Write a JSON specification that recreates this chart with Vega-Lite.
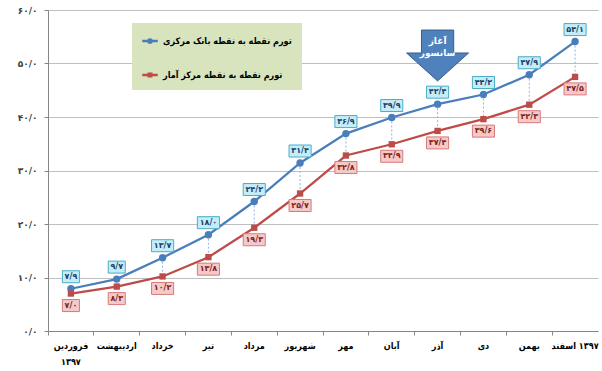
{
  "$schema": "https://vega.github.io/schema/vega-lite/v6.json",
  "width": 550,
  "height": 321,
  "autosize": {"type": "none"},
  "padding": {"left": 48, "top": 10, "right": 4, "bottom": 40},
  "config": {"view": {"stroke": null}, "font": "DejaVu Sans"},
  "data": {"values": [
    {"m": "فروردین", "s": "تورم نقطه به نقطه بانک مرکزی", "v": 7.9, "t": "۷/۹"},
    {"m": "اردیبهشت", "s": "تورم نقطه به نقطه بانک مرکزی", "v": 9.7, "t": "۹/۷"},
    {"m": "خرداد", "s": "تورم نقطه به نقطه بانک مرکزی", "v": 13.7, "t": "۱۳/۷"},
    {"m": "تیر", "s": "تورم نقطه به نقطه بانک مرکزی", "v": 18.0, "t": "۱۸/۰"},
    {"m": "مرداد", "s": "تورم نقطه به نقطه بانک مرکزی", "v": 24.2, "t": "۲۴/۲"},
    {"m": "شهریور", "s": "تورم نقطه به نقطه بانک مرکزی", "v": 31.4, "t": "۳۱/۴"},
    {"m": "مهر", "s": "تورم نقطه به نقطه بانک مرکزی", "v": 36.9, "t": "۳۶/۹"},
    {"m": "آبان", "s": "تورم نقطه به نقطه بانک مرکزی", "v": 39.9, "t": "۳۹/۹"},
    {"m": "آذر", "s": "تورم نقطه به نقطه بانک مرکزی", "v": 42.4, "t": "۴۲/۴"},
    {"m": "دی", "s": "تورم نقطه به نقطه بانک مرکزی", "v": 44.2, "t": "۴۴/۲"},
    {"m": "بهمن", "s": "تورم نقطه به نقطه بانک مرکزی", "v": 47.9, "t": "۴۷/۹"},
    {"m": "اسفند ۱۳۹۷", "s": "تورم نقطه به نقطه بانک مرکزی", "v": 54.1, "t": "۵۴/۱"},
    {"m": "فروردین", "s": "تورم نقطه به نقطه مرکز آمار", "v": 7.0, "t": "۷/۰"},
    {"m": "اردیبهشت", "s": "تورم نقطه به نقطه مرکز آمار", "v": 8.3, "t": "۸/۳"},
    {"m": "خرداد", "s": "تورم نقطه به نقطه مرکز آمار", "v": 10.2, "t": "۱۰/۲"},
    {"m": "تیر", "s": "تورم نقطه به نقطه مرکز آمار", "v": 13.8, "t": "۱۳/۸"},
    {"m": "مرداد", "s": "تورم نقطه به نقطه مرکز آمار", "v": 19.3, "t": "۱۹/۳"},
    {"m": "شهریور", "s": "تورم نقطه به نقطه مرکز آمار", "v": 25.7, "t": "۲۵/۷"},
    {"m": "مهر", "s": "تورم نقطه به نقطه مرکز آمار", "v": 32.8, "t": "۳۲/۸"},
    {"m": "آبان", "s": "تورم نقطه به نقطه مرکز آمار", "v": 34.9, "t": "۳۴/۹"},
    {"m": "آذر", "s": "تورم نقطه به نقطه مرکز آمار", "v": 37.4, "t": "۳۷/۴"},
    {"m": "دی", "s": "تورم نقطه به نقطه مرکز آمار", "v": 39.6, "t": "۳۹/۶"},
    {"m": "بهمن", "s": "تورم نقطه به نقطه مرکز آمار", "v": 42.3, "t": "۴۲/۳"},
    {"m": "اسفند ۱۳۹۷", "s": "تورم نقطه به نقطه مرکز آمار", "v": 47.5, "t": "۴۷/۵"}
  ]},
  "encoding": {
    "x": {
      "field": "m", "type": "nominal", "sort": null,
      "scale": {"type": "band", "paddingInner": 0, "paddingOuter": 0},
      "axis": {
        "title": null, "bandPosition": 0, "labelAngle": 0, "grid": false, "labelOverlap": false, "labelBound": false,
        "labelFont": "DejaVu Sans Condensed, DejaVu Sans", "labelFontSize": 9, "labelFontWeight": "bold", "labelColor": "#000000",
        "domainColor": "#868686", "tickColor": "#868686", "tickSize": 4, "labelPadding": 6, "labelLineHeight": 16,
        "labelExpr": "datum.value == 'فروردین' ? ['فروردین', '۱۳۹۷'] : (datum.value == 'اسفند ۱۳۹۷' ? 'اسفند\u200e ۱۳۹۷' : datum.label)"
      }
    },
    "y": {
      "field": "v", "type": "quantitative",
      "scale": {"domain": [0, 60], "nice": false, "zero": true},
      "axis": {
        "title": null, "values": [0, 10, 20, 30, 40, 50, 60], "grid": true, "gridColor": "#bfbfbf",
        "domainColor": "#868686", "tickColor": "#868686", "tickSize": 4,
        "labelFont": "DejaVu Sans", "labelFontSize": 9, "labelFontWeight": "bold", "labelColor": "#404040", "labelPadding": 7,
        "labelExpr": "['۰/۰', '۱۰/۰', '۲۰/۰', '۳۰/۰', '۴۰/۰', '۵۰/۰', '۶۰/۰'][round(datum.value / 10)]"
      }
    }
  },
  "layer": [
    {
      "transform": [{"pivot": "s", "value": "v", "groupby": ["m"]}],
      "mark": {"type": "rule", "color": "#8db3e2", "strokeWidth": 1, "strokeDash": [2, 2]},
      "encoding": {
        "y": {"field": "تورم نقطه به نقطه بانک مرکزی", "type": "quantitative"},
        "y2": {"field": "تورم نقطه به نقطه مرکز آمار"}
      }
    },
    {
      "mark": {"type": "line", "strokeWidth": 2.25},
      "encoding": {
        "color": {
          "field": "s", "type": "nominal",
          "scale": {"domain": ["تورم نقطه به نقطه بانک مرکزی", "تورم نقطه به نقطه مرکز آمار"], "range": ["#4a7ebb", "#be4b48"]},
          "legend": {
            "orient": "none", "legendX": 84, "legendY": 13, "title": null,
            "fillColor": "#d7e4bd", "padding": 10, "rowPadding": 20, "symbolSize": 196,
            "labelFont": "DejaVu Sans Condensed, DejaVu Sans", "labelFontSize": 9, "labelFontWeight": "bold", "labelColor": "#000000",
            "labelLimit": 400, "labelOffset": 5
          }
        }
      }
    },
    {
      "transform": [{"filter": "false"}],
      "mark": {"type": "point", "filled": true, "opacity": 1},
      "encoding": {
        "color": {"field": "s", "type": "nominal"},
        "shape": {"field": "s", "type": "nominal", "scale": {"domain": ["تورم نقطه به نقطه بانک مرکزی", "تورم نقطه به نقطه مرکز آمار"],
          "range": ["M-1,-0.08H1V0.08H-1Z M0.3,0A0.3,0.3 0 1,1 -0.3,0A0.3,0.3 0 1,1 0.3,0Z", "M-1,-0.08H1V0.08H-1Z M-0.25,-0.25H0.25V0.25H-0.25Z"]}}
      }
    },
    {
      "transform": [{"filter": "datum.s == 'تورم نقطه به نقطه بانک مرکزی'"}],
      "mark": {"type": "point", "filled": true, "opacity": 1, "size": 55, "shape": "circle", "color": "#4a7ebb"},
      "encoding": {}
    },
    {
      "transform": [{"filter": "datum.s == 'تورم نقطه به نقطه مرکز آمار'"}],
      "mark": {"type": "point", "filled": true, "opacity": 1, "size": 40, "shape": "square", "color": "#be4b48"},
      "encoding": {}
    },
    {
      "transform": [{"filter": "datum.s == 'تورم نقطه به نقطه بانک مرکزی'"}],
      "mark": {"type": "point", "filled": true, "opacity": 1, "size": 576, "yOffset": -12, "fill": "#c3edf9", "stroke": "#4bacc6", "strokeWidth": 1},
      "encoding": {
        "shape": {"condition": {"test": "length(datum.t) > 3", "value": "M-0.92,-0.5H0.92V0.5H-0.92Z"}, "value": "M-0.71,-0.5H0.71V0.5H-0.71Z"}
      }
    },
    {
      "transform": [{"filter": "datum.s == 'تورم نقطه به نقطه مرکز آمار'"}],
      "mark": {"type": "point", "filled": true, "opacity": 1, "size": 576, "yOffset": 12, "fill": "#f6c8c8", "stroke": "#d67a7a", "strokeWidth": 1},
      "encoding": {
        "shape": {"condition": {"test": "length(datum.t) > 3", "value": "M-0.92,-0.5H0.92V0.5H-0.92Z"}, "value": "M-0.71,-0.5H0.71V0.5H-0.71Z"}
      }
    },
    {
      "transform": [{"filter": "datum.s == 'تورم نقطه به نقطه بانک مرکزی'"}],
      "mark": {"type": "text", "font": "DejaVu Sans", "fontSize": 8, "fontWeight": "bold", "color": "#1f3f66", "yOffset": -12, "baseline": "middle", "align": "center"},
      "encoding": {"text": {"field": "t", "type": "nominal"}}
    },
    {
      "transform": [{"filter": "datum.s == 'تورم نقطه به نقطه مرکز آمار'"}],
      "mark": {"type": "text", "font": "DejaVu Sans", "fontSize": 8, "fontWeight": "bold", "color": "#7a2422", "yOffset": 12, "baseline": "middle", "align": "center"},
      "encoding": {"text": {"field": "t", "type": "nominal"}}
    },
    {
      "data": {"values": [{"m": "آذر", "v": 51.5}]},
      "mark": {"type": "point", "filled": true, "opacity": 1, "size": 3844, "fill": "#4f81bd", "stroke": "#385d8a", "strokeWidth": 1,
        "shape": "M-0.52,-0.82H0.52V-0.08H1L0,0.82L-1,-0.08H-0.52Z"},
      "encoding": {}
    },
    {
      "data": {"values": [{"m": "آذر", "v": 54.2, "t": "آغاز"}, {"m": "آذر", "v": 52.0, "t": "سانسور"}]},
      "mark": {"type": "text", "font": "DejaVu Sans", "fontSize": 9, "fontWeight": "bold", "color": "#ffffff", "baseline": "middle", "align": "center"},
      "encoding": {"text": {"field": "t", "type": "nominal"}}
    }
  ]
}
